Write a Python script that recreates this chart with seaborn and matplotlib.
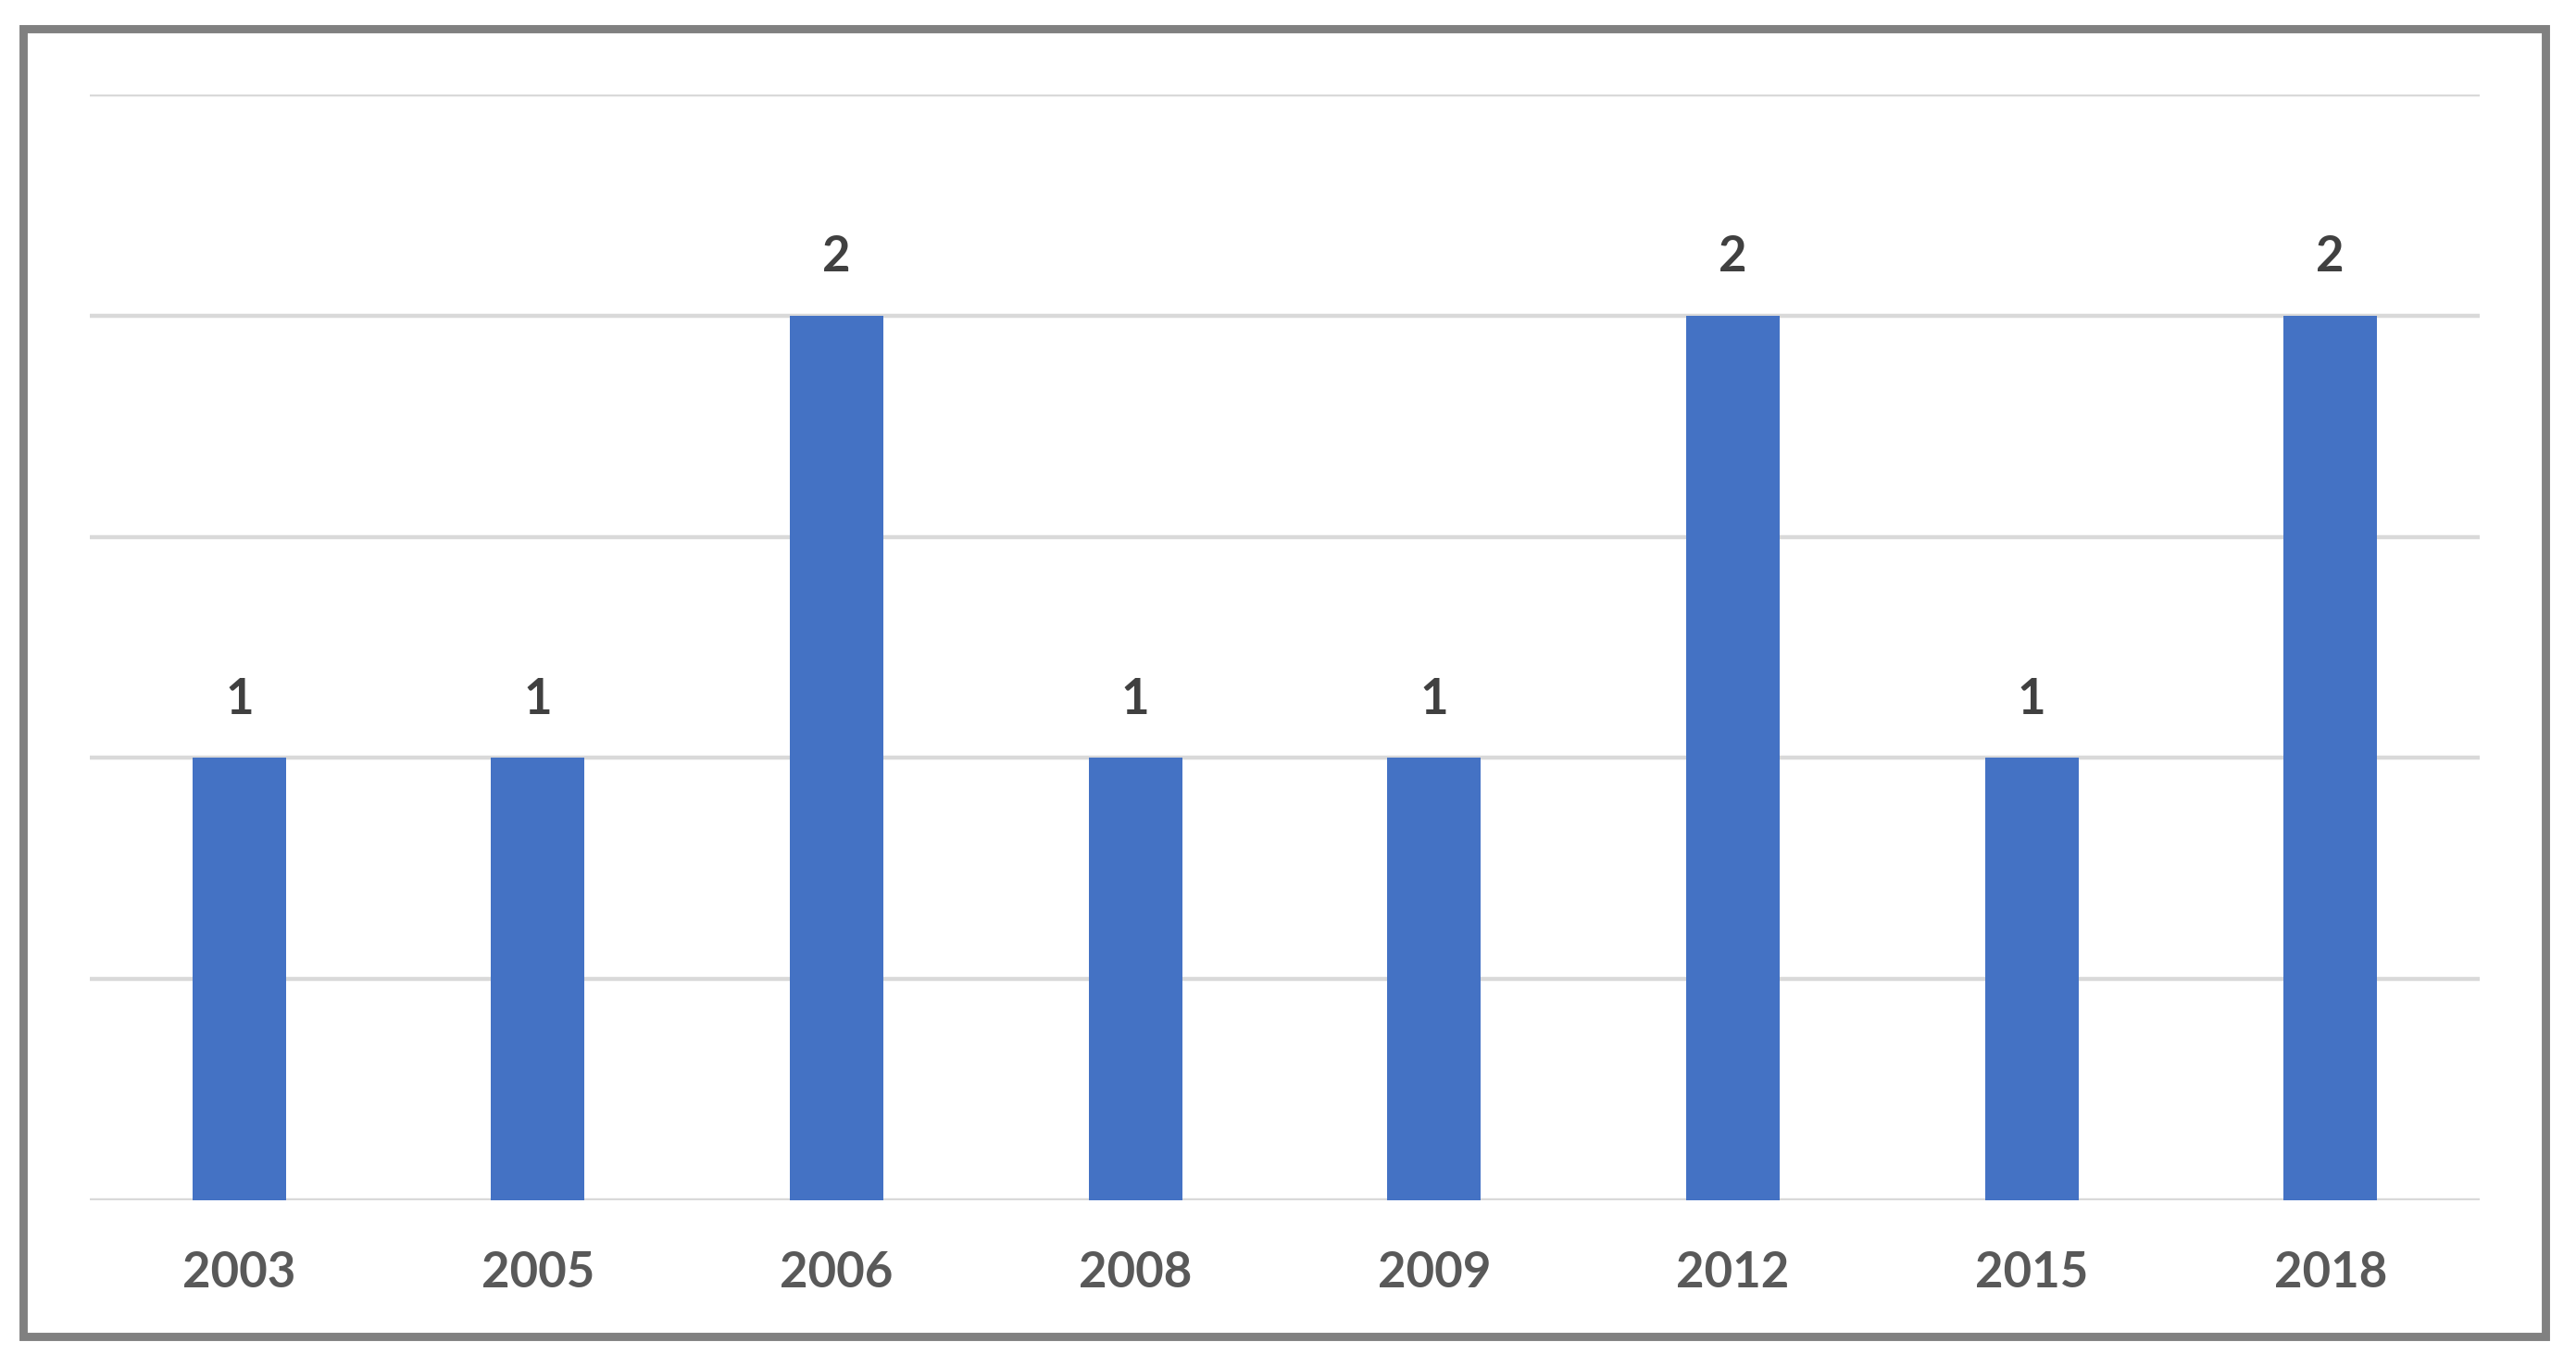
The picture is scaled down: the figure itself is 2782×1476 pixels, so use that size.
import matplotlib
matplotlib.use("Agg")
import matplotlib.pyplot as plt
import seaborn as sns
import pandas as pd
from matplotlib.patches import Rectangle

# data
years = ["2003", "2005", "2006", "2008", "2009", "2012", "2015", "2018"]
counts = [1, 1, 2, 1, 1, 2, 1, 2]

W, H, DPI = 2782, 1476, 200

sns.set_style("white")
plt.rcParams["font.family"] = ["Lato", "DejaVu Sans"]

df = pd.DataFrame({"year": years, "count": counts})

fig = plt.figure(figsize=(W / DPI, H / DPI), dpi=DPI)
ax = fig.add_axes([97 / W, 1 - 1296 / H, (2678 - 97) / W, (1296 - 102) / H])

sns.barplot(data=df, x="year", y="count", color="#4472C4", width=0.313,
            saturation=1, linewidth=0, ax=ax, zorder=3)

ax.set_ylim(0, 2.5)
ax.set_yticks([0, 0.5, 1, 1.5, 2, 2.5])
ax.yaxis.grid(True, color="#D9D9D9", linewidth=1.6, zorder=0)
ax.set_axisbelow(True)
ax.tick_params(axis="y", left=False, labelleft=False)
ax.tick_params(axis="x", bottom=False, pad=16, labelsize=19, labelcolor="#595959")
for lbl in ax.get_xticklabels():
    lbl.set_fontweight("bold")
for s in ax.spines.values():
    s.set_visible(False)
ax.set_xlabel("")
ax.set_ylabel("")

for c in ax.containers:
    ax.bar_label(c, fmt="%d", padding=14, fontsize=19, fontweight="bold",
                 color="#404040")

# outer frame around the chart
fig.patches.append(Rectangle((24.5 / W, 1 - 1443 / H), (2749 - 24.5) / W, (1443 - 30.5) / H,
                             transform=fig.transFigure, fill=False,
                             edgecolor="#808080", linewidth=3.2))

fig.savefig("out.png", dpi=DPI)
